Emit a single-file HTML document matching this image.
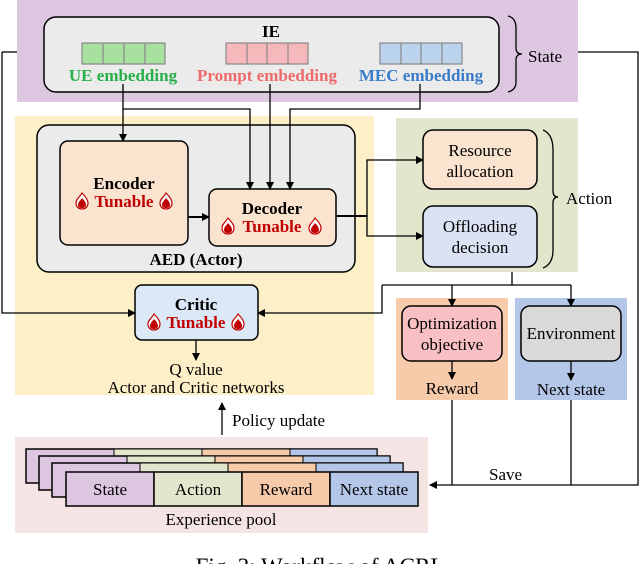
<!DOCTYPE html>
<html><head><meta charset="utf-8"><style>
html,body{margin:0;padding:0;background:#fff;}
svg{display:block;font-family:"Liberation Serif",serif;}
</style></head><body>
<svg width="640" height="564" viewBox="0 0 640 564" xmlns="http://www.w3.org/2000/svg">
<defs>
<marker id="a" markerWidth="8" markerHeight="8" refX="7" refY="4" orient="auto" markerUnits="userSpaceOnUse"><path d="M0,0 L8,4 L0,8 z" fill="#000"/></marker>
<g id="fl"><path d="M0,-8 C4,-4 6,-1 6,2 C6,6 3,8 0,8 C-3,8 -6,6 -6,2 C-6,-2 -3,-3 0,-8 z" fill="#fff" stroke="#c00000" stroke-width="1.2"/><path d="M0,-3 C3,0 4,2 4,4 C4,6 2,7 0,7 C-2,7 -4,6 -4,4 C-4,1 -2,0 0,-3 z" fill="#c00000"/></g>
</defs>
<rect x="17" y="0" width="561" height="102" fill="#dcc6e0"/>
<rect x="15" y="116" width="359" height="279" fill="#fdf0c9"/>
<rect x="396" y="118" width="182" height="154" fill="#e3e6cc"/>
<rect x="396" y="298" width="112" height="102" fill="#f7caa9"/>
<rect x="515" y="298" width="112" height="102" fill="#b4c7e8"/>
<rect x="15" y="437" width="413" height="96" fill="#f4e4e4"/>

<rect x="44" y="17" width="455" height="75" rx="12" fill="#ebebeb" stroke="#000" stroke-width="1.5"/>
<text x="271" y="37" font-size="17" font-weight="bold" text-anchor="middle">IE</text>
<g stroke="#888" stroke-width="1.2">
<rect x="82" y="43" width="83" height="21" fill="#a8e0a0"/><line x1="103" y1="43" x2="103" y2="64"/><line x1="124" y1="43" x2="124" y2="64"/><line x1="145" y1="43" x2="145" y2="64"/>
<rect x="226" y="43" width="82" height="21" fill="#f6b8bb"/><line x1="247" y1="43" x2="247" y2="64"/><line x1="267" y1="43" x2="267" y2="64"/><line x1="288" y1="43" x2="288" y2="64"/>
<rect x="380" y="43" width="82" height="21" fill="#bcd3ee"/><line x1="401" y1="43" x2="401" y2="64"/><line x1="421" y1="43" x2="421" y2="64"/><line x1="442" y1="43" x2="442" y2="64"/>
</g>
<text x="123" y="81" font-size="17" font-weight="bold" fill="#27b04a" text-anchor="middle">UE embedding</text>
<text x="267" y="81" font-size="17" font-weight="bold" fill="#ef6a6a" text-anchor="middle">Prompt embedding</text>
<text x="421" y="81" font-size="17" font-weight="bold" fill="#3a7cc8" text-anchor="middle">MEC embedding</text>
<path d="M508,16 Q516,18 516,28 L516,48 Q516,54 522,54 Q516,54 516,60 L516,82 Q516,90 508,92" fill="none" stroke="#000" stroke-width="1.3"/>
<text x="528" y="62" font-size="17">State</text>

<rect x="37" y="125" width="318" height="147" rx="12" fill="#ebebeb" stroke="#000" stroke-width="1.5"/>
<rect x="60" y="141" width="128" height="104" rx="8" fill="#fae3cf" stroke="#000" stroke-width="1.5"/>
<text x="124" y="189" font-size="17" font-weight="bold" text-anchor="middle">Encoder</text>
<text x="124" y="207" font-size="17" font-weight="bold" fill="#c00000" text-anchor="middle">Tunable</text>
<use href="#fl" x="82" y="201"/><use href="#fl" x="166" y="201"/>
<rect x="209" y="189" width="127" height="57" rx="8" fill="#fae3cf" stroke="#000" stroke-width="1.5"/>
<text x="272" y="214" font-size="17" font-weight="bold" text-anchor="middle">Decoder</text>
<text x="272" y="232" font-size="17" font-weight="bold" fill="#c00000" text-anchor="middle">Tunable</text>
<use href="#fl" x="228" y="226"/><use href="#fl" x="315" y="226"/>
<text x="196" y="265" font-size="17" font-weight="bold" text-anchor="middle">AED (Actor)</text>

<g fill="none" stroke="#000" stroke-width="1.3">
<path d="M123,84 L123,141" marker-end="url(#a)"/>
<path d="M123,109 L250,109 L250,189" marker-end="url(#a)"/>
<path d="M270,84 L270,189" marker-end="url(#a)"/>
<path d="M420,84 L420,109 L290,109 L290,189" marker-end="url(#a)"/>
<path d="M188,217 L209,217" stroke-width="2" marker-end="url(#a)"/>
<path d="M336,216 L367,216" stroke-width="2"/>
<path d="M367,216 L367,160 L423,160" marker-end="url(#a)"/>
<path d="M367,216 L367,236 L423,236" marker-end="url(#a)"/>
</g>

<rect x="423" y="130" width="114" height="59" rx="10" fill="#fae3cf" stroke="#000" stroke-width="1.5"/>
<text x="480" y="156" font-size="17" text-anchor="middle">Resource</text>
<text x="480" y="177" font-size="17" text-anchor="middle">allocation</text>
<rect x="423" y="206" width="114" height="61" rx="10" fill="#dbe2f4" stroke="#000" stroke-width="1.5"/>
<text x="480" y="232" font-size="17" text-anchor="middle">Offloading</text>
<text x="480" y="253" font-size="17" text-anchor="middle">decision</text>
<path d="M543,130 Q553,134 553,150 L553,191 Q553,197 558,197 Q553,197 553,203 L553,250 Q553,264 543,268" fill="none" stroke="#000" stroke-width="1.3"/>
<text x="566" y="204" font-size="17">Action</text>

<rect x="135" y="285" width="123" height="55" rx="7" fill="#dbe8f6" stroke="#000" stroke-width="1.5"/>
<text x="196" y="310" font-size="17" font-weight="bold" text-anchor="middle">Critic</text>
<text x="196" y="328" font-size="17" font-weight="bold" fill="#c00000" text-anchor="middle">Tunable</text>
<use href="#fl" x="154" y="322"/><use href="#fl" x="238" y="322"/>
<text x="196" y="375" font-size="17" text-anchor="middle">Q value</text>
<text x="196" y="393" font-size="17" text-anchor="middle">Actor and Critic networks</text>

<rect x="402" y="306" width="100" height="55" rx="9" fill="#f9c0c4" stroke="#000" stroke-width="1.5"/>
<text x="452" y="329" font-size="17" text-anchor="middle">Optimization</text>
<text x="452" y="350" font-size="17" text-anchor="middle">objective</text>
<text x="452" y="394" font-size="17" text-anchor="middle">Reward</text>
<rect x="521" y="306" width="100" height="55" rx="9" fill="#d9d9d9" stroke="#000" stroke-width="1.5"/>
<text x="571" y="339" font-size="17" text-anchor="middle">Environment</text>
<text x="571" y="395" font-size="17" text-anchor="middle">Next state</text>

<g fill="none" stroke="#000" stroke-width="1.3">
<path d="M2,52 L17,52"/>
<path d="M2,52 L2,313 L135,313" marker-end="url(#a)"/>
<path d="M578,52 L638,52 L638,485 L430,485" marker-end="url(#a)"/>
<path d="M512,272 L512,285"/>
<path d="M382,285 L571,285"/>
<path d="M382,285 L382,313 L258,313" marker-end="url(#a)"/>
<path d="M452,285 L452,306" marker-end="url(#a)"/>
<path d="M571,285 L571,306" marker-end="url(#a)"/>
<path d="M452,361 L452,379" marker-end="url(#a)"/>
<path d="M571,361 L571,380" marker-end="url(#a)"/>
<path d="M452,400 L452,485"/>
<path d="M571,400 L571,485"/>
<path d="M196,340 L196,360" marker-end="url(#a)"/>
<path d="M222,435 L222,403" marker-end="url(#a)"/>
</g>
<text x="489" y="480" font-size="17">Save</text>
<text x="232" y="426" font-size="17">Policy update</text>

<g stroke="#000" stroke-width="1.5">
<rect x="26" y="449" width="351" height="34" fill="#dcc6e0"/>
<rect x="114" y="449" width="88" height="34" fill="#e3e6cc" stroke-width="1"/><rect x="202" y="449" width="88" height="34" fill="#f7caa9" stroke-width="1"/><rect x="290" y="449" width="87" height="34" fill="#b4c7e8" stroke-width="1"/>
<rect x="39" y="456" width="351" height="34" fill="#dcc6e0"/>
<rect x="127" y="456" width="88" height="34" fill="#e3e6cc" stroke-width="1"/><rect x="215" y="456" width="88" height="34" fill="#f7caa9" stroke-width="1"/><rect x="303" y="456" width="87" height="34" fill="#b4c7e8" stroke-width="1"/>
<rect x="52" y="463" width="351" height="34" fill="#dcc6e0"/>
<rect x="140" y="463" width="88" height="34" fill="#e3e6cc" stroke-width="1"/><rect x="228" y="463" width="88" height="34" fill="#f7caa9" stroke-width="1"/><rect x="316" y="463" width="87" height="34" fill="#b4c7e8" stroke-width="1"/>
<rect x="66" y="472" width="88" height="34" fill="#dcc6e0"/>
<rect x="154" y="472" width="88" height="34" fill="#e3e6cc"/>
<rect x="242" y="472" width="88" height="34" fill="#f7caa9"/>
<rect x="330" y="472" width="88" height="34" fill="#b4c7e8"/>
</g>
<text x="110" y="495" font-size="17" text-anchor="middle">State</text>
<text x="198" y="495" font-size="17" text-anchor="middle">Action</text>
<text x="286" y="495" font-size="17" text-anchor="middle">Reward</text>
<text x="374" y="495" font-size="17" text-anchor="middle">Next state</text>
<text x="221" y="525" font-size="17" text-anchor="middle">Experience pool</text>

<text x="320" y="574" font-size="23" text-anchor="middle">Fig. 3: Workflow of ACRL</text>
</svg>
</body></html>
